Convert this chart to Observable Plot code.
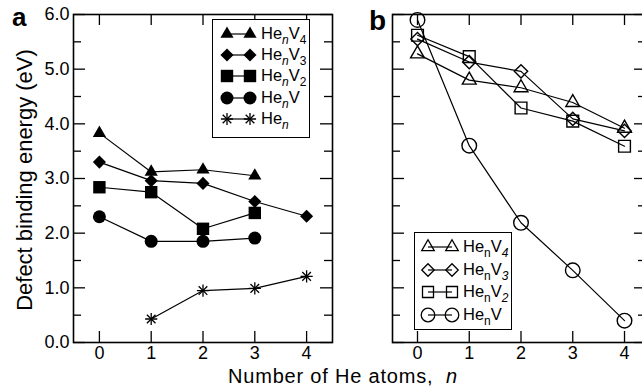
<!DOCTYPE html>
<html><head><meta charset="utf-8">
<script src="https://cdn.jsdelivr.net/npm/d3@7"></script>
<script src="https://cdn.jsdelivr.net/npm/@observablehq/plot@0.6"></script>
<style>
body{margin:0;background:#fff;}
#fig{position:relative;width:642px;height:389px;overflow:hidden;font-family:"Liberation Sans",Arial,sans-serif;color:#000;background:#fff;}
#fig svg.plot{position:absolute;top:0;}
.lbl{position:absolute;white-space:nowrap;line-height:1;}
.leg{position:absolute;border:1.5px solid #000;background:#fff;box-sizing:border-box;}
.row{position:absolute;left:0;height:20px;}
.row svg{position:absolute;left:0;top:0;}
.row span.t{position:absolute;left:48px;top:1px;font-size:16.5px;line-height:1;white-space:nowrap;}
.sb{font-size:12px;position:relative;top:5px;}
</style></head><body><div id="fig"></div>
<script>
// ---------- data ----------
const nValues = [0, 1, 2, 3, 4];
const yMajor = [0, 1, 2, 3, 4, 5, 6];
const yMinor = [0.5, 1.5, 2.5, 3.5, 4.5, 5.5];
// panel a (filled symbols)
const aV4 = [3.83, 3.12, 3.16, 3.05];          // n = 0..3
const aV3 = [3.30, 2.96, 2.91, 2.58, 2.31];    // n = 0..4
const aV2 = [2.84, 2.75, 2.08, 2.37];          // n = 0..3
const aV1 = [2.30, 1.85, 1.85, 1.91];          // n = 0..3
const aHe = [0.43, 0.95, 0.99, 1.21];          // n = 1..4
// panel b (open symbols)
const bV4 = [5.28, 4.80, 4.66, 4.39, 3.92];
const bV3 = [5.55, 5.13, 4.96, 4.09, 3.87];
const bV2 = [5.62, 5.23, 4.29, 4.05, 3.59];
const bV1 = [5.90, 3.60, 2.19, 1.32, 0.40];

const rows = (name, ns, vals) => vals.map((v, i) => ({name, n: ns[i], v}));
const A = {
  V4: rows("V4", [0,1,2,3], aV4),
  V3: rows("V3", [0,1,2,3,4], aV3),
  V2: rows("V2", [0,1,2,3], aV2),
  V1: rows("V1", [0,1,2,3], aV1),
  He: rows("He", [1,2,3,4], aHe)
};
const B = {
  V4: rows("V4", nValues, bV4),
  V3: rows("V3", nValues, bV3),
  V2: rows("V2", nValues, bV2),
  V1: rows("V1", nValues, bV1)
};

const H = 389, mT = 14, mB = 47;
const frameH = H - mT - mB;
const font = '"Liberation Sans", Arial, sans-serif';

function frameTicks(frameW) {
  return [
    Plot.tickX(nValues, {x: d => d, insetTop: frameH - 11, strokeWidth: 1.3}),
    Plot.tickX(nValues, {x: d => d, insetBottom: frameH - 11, strokeWidth: 1.3}),
    Plot.tickY(yMajor, {y: d => d, insetRight: frameW - 12, strokeWidth: 1.3}),
    Plot.tickY(yMajor, {y: d => d, insetLeft: frameW - 12, strokeWidth: 1.3}),
    Plot.tickY(yMinor, {y: d => d, insetRight: frameW - 8, strokeWidth: 1.3}),
    Plot.tickY(yMinor, {y: d => d, insetLeft: frameW - 8, strokeWidth: 1.3})
  ];
}
const lineOpt = {x: "n", y: "v", stroke: "black", strokeWidth: 1.2};
const xAxisOpt = {ticks: nValues, tickSize: 0, tickPadding: 4, tickFormat: d3.format("d"), label: null, fontSize: 18};

// ---------- panel a ----------
const wA = 342, mLA = 73, mRA = 10;
const plotA = Plot.plot({
  width: wA, height: H, marginTop: mT, marginBottom: mB, marginLeft: mLA, marginRight: mRA,
  x: {domain: [-0.5, 4.5]}, y: {domain: [0, 6]},
  style: {fontFamily: font, fontSize: "18px", color: "#000", background: "transparent"},
  marks: [
    Plot.axisX(xAxisOpt),
    Plot.axisY({ticks: yMajor, tickSize: 0, tickPadding: 4, tickFormat: d3.format(".1f"), label: null, fontSize: 18}),
    ...frameTicks(wA - mLA - mRA),
    ...Object.values(A).map(d => Plot.line(d, lineOpt)),
    Plot.dot(A.V4, {x: "n", y: "v", symbol: "triangle", r: 4.9, fill: "black", stroke: "none"}),
    Plot.dot(A.V3, {x: "n", y: "v", symbol: "diamond2", r: 5.9, fill: "black", stroke: "none"}),
    Plot.dot(A.V2, {x: "n", y: "v", symbol: "square", r: 7.0, fill: "black", stroke: "none"}),
    Plot.dot(A.V1, {x: "n", y: "v", symbol: "circle", r: 6.5, fill: "black", stroke: "none"}),
    Plot.dot(A.He, {x: "n", y: "v", symbol: "plus", r: 4.0, stroke: "black", strokeWidth: 1.3}),
    Plot.dot(A.He, {x: "n", y: "v", symbol: "times", r: 4.0, stroke: "black", strokeWidth: 1.3}),
    Plot.frame({stroke: "black", strokeWidth: 1.6})
  ]
});
plotA.classList.add("plot");
plotA.style.left = "0px";

// ---------- panel b ----------
const wB = 330, mLB = 70, mRB = 6, leftB = 322;
const plotB = Plot.plot({
  width: wB, height: H, marginTop: mT, marginBottom: mB, marginLeft: mLB, marginRight: mRB,
  x: {domain: [-0.483, 4.425]}, y: {domain: [0, 6], axis: null},
  style: {fontFamily: font, fontSize: "18px", color: "#000", background: "transparent"},
  marks: [
    Plot.axisX(xAxisOpt),
    ...frameTicks(wB - mLB - mRB),
    ...Object.values(B).map(d => Plot.line(d, lineOpt)),
    Plot.dot(B.V4, {x: "n", y: "v", symbol: "triangle2", r: 6.6, fill: "none", stroke: "black", strokeWidth: 1.4}),
    Plot.dot(B.V3, {x: "n", y: "v", symbol: "diamond2", r: 6.0, fill: "none", stroke: "black", strokeWidth: 1.4}),
    Plot.dot(B.V2, {x: "n", y: "v", symbol: "square2", r: 7.5, fill: "none", stroke: "black", strokeWidth: 1.4}),
    Plot.dot(B.V1, {x: "n", y: "v", symbol: "circle", r: 7.3, fill: "none", stroke: "black", strokeWidth: 1.4}),
    Plot.frame({stroke: "black", strokeWidth: 1.6})
  ]
});
plotB.classList.add("plot");
plotB.style.left = leftB + "px";

const fig = document.getElementById("fig");
fig.appendChild(plotA);
fig.appendChild(plotB);

// ---------- labels ----------
function addLabel(html, css) {
  const d = document.createElement("div");
  d.className = "lbl";
  d.innerHTML = html;
  Object.assign(d.style, css);
  fig.appendChild(d);
  return d;
}
addLabel("a", {left: "12px", top: "4px", fontSize: "26px", fontWeight: "bold"});
addLabel("b", {left: "369px", top: "7px", fontSize: "28px", fontWeight: "bold"});
addLabel("Defect binding energy (eV)", {left: "25px", top: "180px", fontSize: "22px",
  transform: "translate(-50%,-50%) rotate(-90deg)"});
addLabel('Number of He atoms,&nbsp; <i>n</i>', {left: "343px", top: "366px", fontSize: "20px",
  letterSpacing: "0.8px", transform: "translateX(-50%)"});

// ---------- legends ----------
const symPath = (type, r) => d3.symbol(d3[type], Math.PI * r * r)();
function legend(box, items, rowStep, firstRow, xs) {
  const lg = document.createElement("div");
  lg.className = "leg";
  Object.assign(lg.style, {left: box[0] + "px", top: box[1] + "px", width: box[2] + "px", height: box[3] + "px"});
  items.forEach((it, i) => {
    const row = document.createElement("div");
    row.className = "row";
    row.style.top = (firstRow + i * rowStep - 10) + "px";
    row.style.width = (box[2] - 3) + "px";
    const ns = "http://www.w3.org/2000/svg";
    const svg = document.createElementNS(ns, "svg");
    svg.setAttribute("width", 46); svg.setAttribute("height", 20);
    const ln = document.createElementNS(ns, "line");
    ln.setAttribute("x1", xs[0]); ln.setAttribute("x2", xs[1]);
    ln.setAttribute("y1", 10); ln.setAttribute("y2", 10);
    ln.setAttribute("stroke", "black"); ln.setAttribute("stroke-width", 1.2);
    svg.appendChild(ln);
    for (const x of xs) {
      for (const t of it.types) {
        const p = document.createElementNS(ns, "path");
        p.setAttribute("d", symPath(t, it.r));
        p.setAttribute("transform", `translate(${x},10)`);
        p.setAttribute("fill", it.fill);
        p.setAttribute("stroke", it.stroke);
        p.setAttribute("stroke-width", it.sw);
        svg.appendChild(p);
      }
    }
    row.appendChild(svg);
    const sp = document.createElement("span");
    sp.className = "t";
    sp.innerHTML = it.label;
    row.appendChild(sp);
    lg.appendChild(row);
  });
  fig.appendChild(lg);
}
const subI = s => `<span class="sb"><i>${s}</i></span>`;
const subU = s => `<span class="sb">${s}</span>`;
legend([212, 19, 98, 119], [
  {types: ["symbolTriangle"], r: 4.9, fill: "black", stroke: "none", sw: 0, label: "He" + subI("n") + "V" + subU("4")},
  {types: ["symbolDiamond2"], r: 5.9, fill: "black", stroke: "none", sw: 0, label: "He" + subI("n") + "V" + subU("3")},
  {types: ["symbolSquare"], r: 7.0, fill: "black", stroke: "none", sw: 0, label: "He" + subI("n") + "V" + subU("2")},
  {types: ["symbolCircle"], r: 6.5, fill: "black", stroke: "none", sw: 0, label: "He" + subI("n") + "V"},
  {types: ["symbolPlus", "symbolTimes"], r: 4.0, fill: "none", stroke: "black", sw: 1.3, label: "He" + subI("n")}
], 21.4, 13.5, [14, 37]);
legend([414, 232, 98, 98], [
  {types: ["symbolTriangle2"], r: 6.0, fill: "none", stroke: "black", sw: 1.3, label: "He" + subU("n") + "V" + subI("4")},
  {types: ["symbolDiamond2"], r: 5.6, fill: "none", stroke: "black", sw: 1.3, label: "He" + subU("n") + "V" + subI("3")},
  {types: ["symbolSquare2"], r: 7.0, fill: "none", stroke: "black", sw: 1.3, label: "He" + subU("n") + "V" + subI("2")},
  {types: ["symbolCircle"], r: 6.8, fill: "none", stroke: "black", sw: 1.3, label: "He" + subU("n") + "V"}
], 22.7, 14, [13, 37]);
</script></body></html>
